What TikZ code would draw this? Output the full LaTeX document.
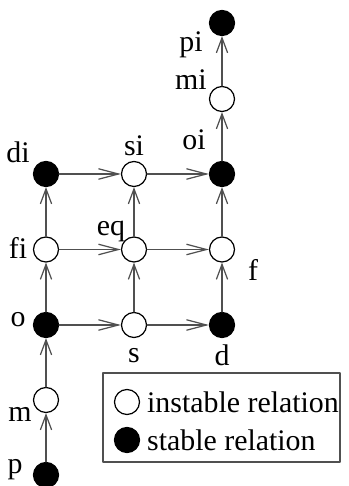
\documentclass[tikz,border=0pt]{standalone}
\usepackage{fontspec}
\setmainfont{Liberation Serif}
\usetikzlibrary{arrows.meta}
\definecolor{edgegray}{RGB}{80,80,80}
\begin{document}
\begin{tikzpicture}[line cap=round, line join=round,
    font=\fontsize{34}{40}\selectfont,
    rel/.style={circle, draw=black, line width=1.4pt, minimum size=1cm, inner sep=0pt},
    unstab/.style={rel, fill=white},
    stab/.style={rel, fill=black},
    lab/.style={inner sep=0pt},
    harr/.style={draw=edgegray, line width=1.4pt, -{Straight Barb[length=0.8cm, width=0.42cm, line width=1.4pt]}},
    varr/.style={draw=edgegray, line width=1.4pt, -{Straight Barb[length=0.6cm, width=0.45cm, line width=1.4pt]}}]
  \useasboundingbox (0,0) rectangle (13.92,19.44);
  % relations
  \node[stab] (p) at (1.84,0.44) {};
  \node[unstab] (m) at (1.84,3.44) {};
  \node[stab] (o) at (1.84,6.44) {};
  \node[unstab] (s) at (5.36,6.44) {};
  \node[stab] (d) at (8.88,6.44) {};
  \node[unstab] (fi) at (1.84,9.46) {};
  \node[unstab] (eq) at (5.36,9.46) {};
  \node[unstab] (f) at (8.88,9.46) {};
  \node[stab] (di) at (1.84,12.48) {};
  \node[unstab] (si) at (5.36,12.48) {};
  \node[stab] (oi) at (8.88,12.48) {};
  \node[unstab] (mi) at (8.88,15.48) {};
  \node[stab] (pi) at (8.88,18.52) {};
  % names
  \node[lab] (lp) at (0.6,0.64) {p};
  \node[lab] (lm) at (0.8,2.88) {m};
  \node[lab] (lo) at (0.72,6.64) {o};
  \node[lab] (ls) at (5.36,5.2) {s};
  \node[lab] (ld) at (8.88,5.24) {d};
  \node[lab] (lfi) at (0.72,9.52) {fi};
  \node[lab] (leq) at (4.44,10.16) {eq};
  \node[lab] (lf) at (10.12,8.64) {f};
  \node[lab] (ldi) at (0.72,13.36) {di};
  \node[lab] (lsi) at (5.36,13.6) {si};
  \node[lab] (loi) at (7.76,13.84) {oi};
  \node[lab] (lmi) at (7.64,16.24) {mi};
  \node[lab] (lpi) at (7.64,17.64) {pi};
  % transitions
  \draw[varr] (p) -- (m);
  \draw[varr] (m) -- (o);
  \draw[varr] (o) -- (fi);
  \draw[varr] (fi) -- (di);
  \draw[varr] (s) -- (eq);
  \draw[varr] (eq) -- (si);
  \draw[varr] (d) -- (f);
  \draw[varr] (f) -- (oi);
  \draw[varr] (oi) -- (mi);
  \draw[varr] (mi) -- (pi);
  \draw[harr] (o) -- (s);
  \draw[harr] (s) -- (d);
  \draw[harr] (fi) -- (eq);
  \draw[harr] (eq) -- (f);
  \draw[harr] (di) -- (si);
  \draw[harr] (si) -- (oi);
  % legend
  \draw[edgegray, line width=1.4pt] (4.12,0.96) rectangle (13.6,4.52);
  \node[unstab] (kun) at (5.08,3.36) {};
  \node[stab] (kst) at (5.08,1.84) {};
  \node[lab, anchor=west] (tun) at (5.88,3.36) {instable relation};
  \node[lab, anchor=west] (tst) at (5.88,1.84) {stable relation};
\end{tikzpicture}
\end{document}
